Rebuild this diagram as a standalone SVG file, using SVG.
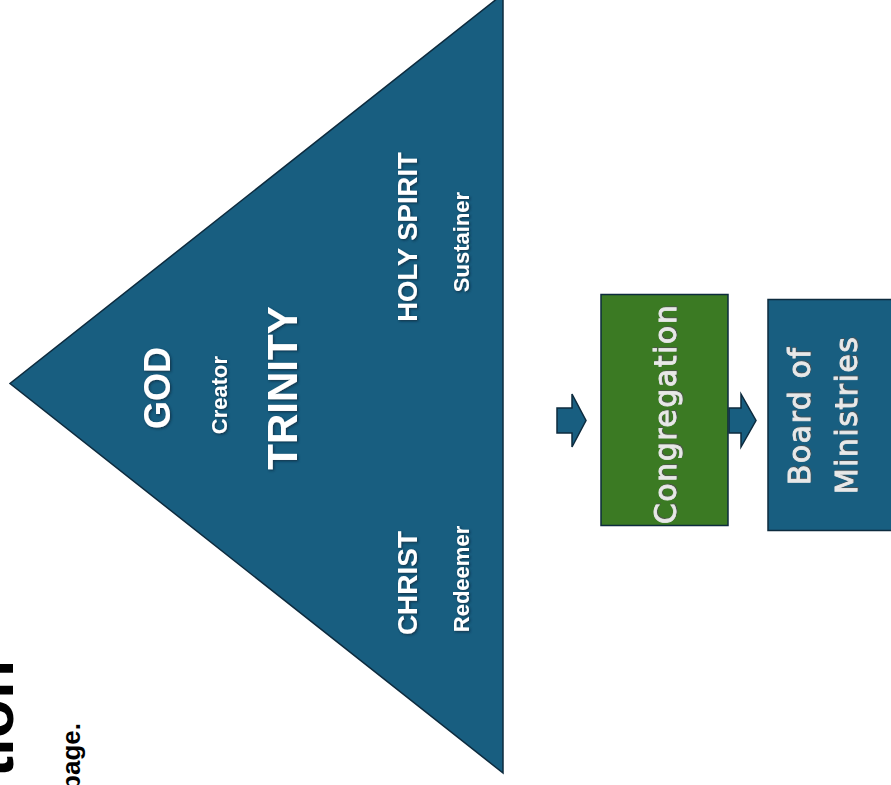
<svg xmlns="http://www.w3.org/2000/svg" width="891" height="785" viewBox="0 0 891 785">
<defs>
<filter id="sh" x="-20%" y="-20%" width="140%" height="140%">
<feDropShadow dx="1.2" dy="1.2" stdDeviation="0.8" flood-color="#0a2030" flood-opacity="0.7"/>
</filter>
<filter id="sh2" x="-20%" y="-20%" width="140%" height="140%">
<feDropShadow dx="1" dy="1" stdDeviation="0.6" flood-color="#505050" flood-opacity="0.8"/>
</filter>
</defs>
<style>
.blue{fill:#185e80;stroke:#0d2b3e;stroke-width:1.5}
.green{fill:#3b7a23;stroke:#0d2b3e;stroke-width:1.5}
.w{fill:#ffffff;font-family:"Liberation Sans",Arial,sans-serif;font-weight:bold;text-anchor:middle}
.bx{fill:#e8e8e8;stroke:#e8e8e8;stroke-width:0.8px;font-family:"DejaVu Sans",Verdana,sans-serif;font-size:30px;letter-spacing:1.5px;text-anchor:middle}
.blk{fill:#000000;font-family:"Liberation Sans",Arial,sans-serif;font-weight:bold;text-anchor:end}
</style>
<rect width="891" height="785" fill="#ffffff"/>
<g id="title">
<text class="blk" font-size="64" transform="translate(13,660) rotate(-90)">tion</text>
<text class="blk" font-size="26" transform="translate(80,723) rotate(-90)">page.</text>
</g>
<g id="trinity">
<polygon class="blue" points="503,-6 10,383.5 503,773"/>
<g filter="url(#sh)">
<text class="w" font-size="36" transform="translate(170,388) rotate(-90)">GOD</text>
<text class="w" font-size="22" transform="translate(227,395) rotate(-90)">Creator</text>
<text class="w" font-size="42" transform="translate(297,388) rotate(-90)">TRINITY</text>
<text class="w" font-size="27.5" transform="translate(417,237) rotate(-90)">HOLY SPIRIT</text>
<text class="w" font-size="22" transform="translate(469,242) rotate(-90)">Sustainer</text>
<text class="w" font-size="28" transform="translate(417,583) rotate(-90)">CHRIST</text>
<text class="w" font-size="22" transform="translate(469,579) rotate(-90)">Redeemer</text>
</g>
</g>
<g id="congregation">
<rect class="green" x="601" y="294.5" width="127" height="231"/>
<text class="bx" filter="url(#sh2)" transform="translate(676,414) rotate(-90)">Congregation</text>
</g>
<g id="board">
<rect class="blue" x="768" y="299.5" width="130" height="231"/>
<text class="bx" filter="url(#sh2)" transform="translate(810,416) rotate(-90)">Board of</text>
<text class="bx" filter="url(#sh2)" transform="translate(857,415) rotate(-90)">Ministries</text>
</g>
<g id="connectors">
<polygon class="blue" points="557,408 572,408 572,394 586,420.5 572,447 572,433 557,433"/>
<polygon class="blue" points="729,408 741,408 741,394 756,420.5 741,447 741,433 729,433"/>
</g>
</svg>
